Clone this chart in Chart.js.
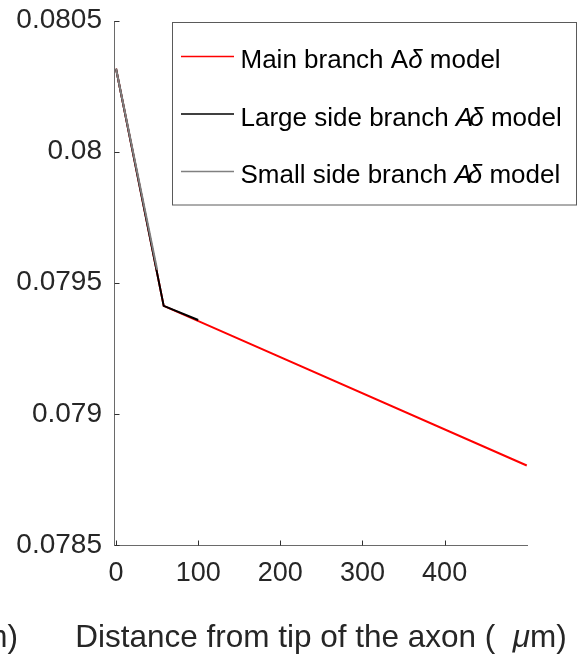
<!DOCTYPE html>
<html>
<head>
<meta charset="utf-8">
<script src="https://cdn.jsdelivr.net/npm/chart.js@4/dist/chart.umd.min.js"></script>
<style>
  html, body { margin: 0; padding: 0; background: #ffffff; }
  canvas { display: block; }
</style>
</head>
<body>
<canvas id="c" width="580" height="656"></canvas>
<script>
const FONT = '"Liberation Sans", Arial, Helvetica, sans-serif';

// Distance from the axon tip (µm) and value for each branch model
const mainX  = [0, 58, 500];
const mainY  = [0.080316, 0.079412, 0.078803];
const largeX = [0, 58, 100];
const largeY = [0.080316, 0.079412, 0.079358];
const smallX = [0, 50];
const smallY = [0.080316, 0.07955];

const xTicks = [0, 100, 200, 300, 400];
const yTicks = [0.0785, 0.079, 0.0795, 0.08, 0.0805];

const seriesNames  = ['Main branch', 'Large side branch', 'Small side branch'];
const seriesColors = ['#ff0000', '#000000', '#808080'];
const xLabelText   = 'Distance from tip of the axon (  ';
const xLabelUnit   = 'm)';

function toPoints(xs, ys) { return xs.map((x, i) => ({ x: x, y: ys[i] })); }

// Text runs with optional italic pieces
function runsWidth(ctx, runs, size) {
  let w = 0;
  runs.forEach(r => {
    ctx.font = (r.italic ? 'italic ' : '') + size + 'px ' + FONT;
    w += ctx.measureText(r.t).width + (r.kern || 0);
  });
  return w;
}
function drawRuns(ctx, x, y, runs, size, color) {
  ctx.fillStyle = color;
  ctx.textBaseline = 'alphabetic';
  ctx.textAlign = 'left';
  runs.forEach(r => {
    ctx.font = (r.italic ? 'italic ' : '') + size + 'px ' + FONT;
    ctx.fillText(r.t, x, y);
    x += ctx.measureText(r.t).width + (r.kern || 0);
  });
}

const titleRuns = [
  { t: xLabelText },
  { t: '\u03bc', italic: true },
  { t: xLabelUnit }
];

const legendRuns = [
  [{ t: seriesNames[0] + ' A' }, { t: '\u03b4', italic: true }, { t: ' model' }],
  [{ t: seriesNames[1] + ' ' }, { t: 'A', italic: true, kern: -4 }, { t: '\u03b4', italic: true }, { t: ' model' }],
  [{ t: seriesNames[2] + ' ' }, { t: 'A', italic: true, kern: -4 }, { t: '\u03b4', italic: true }, { t: ' model' }]
];

const decorations = {
  id: 'decorations',
  afterDraw(chart) {
    const ctx = chart.ctx;
    const a = chart.chartArea;
    const xs = chart.scales.x, ys = chart.scales.y;
    ctx.save();

    // axis lines (left and bottom only)
    ctx.strokeStyle = '#6a6a6a';
    ctx.lineWidth = 1;
    const lx = Math.round(a.left) + 0.5;
    const by = Math.round(a.bottom) + 0.5;
    ctx.beginPath();
    ctx.moveTo(lx, Math.round(a.top));
    ctx.lineTo(lx, by);
    ctx.lineTo(Math.round(a.right), by);
    ctx.stroke();

    // inward tick marks
    ctx.strokeStyle = '#303030';
    ctx.beginPath();
    yTicks.forEach(v => {
      const py = Math.round(ys.getPixelForValue(v)) + 0.5;
      ctx.moveTo(lx, py);
      ctx.lineTo(lx + 5, py);
    });
    xTicks.forEach(v => {
      const px = Math.round(xs.getPixelForValue(v)) + 0.5;
      ctx.moveTo(px, by);
      ctx.lineTo(px, by - 5);
    });
    ctx.stroke();

    // legend box
    const bx = 172.5, bt = 22.5, bw = 404, bh = 182.5;
    ctx.fillStyle = '#ffffff';
    ctx.fillRect(bx, bt, bw, bh);
    ctx.strokeStyle = '#5a5a5a';
    ctx.lineWidth = 1;
    ctx.strokeRect(bx, bt, bw, bh);
    for (let i = 0; i < 3; i++) {
      const rowY = 56.5 + i * 57.5;
      ctx.strokeStyle = seriesColors[i];
      ctx.lineWidth = 1.6;
      ctx.beginPath();
      ctx.moveTo(181, rowY);
      ctx.lineTo(234, rowY);
      ctx.stroke();
      drawRuns(ctx, 240.5, rowY + 11.5, legendRuns[i], 26, '#000000');
    }

    // x-axis title, centred under the plot area
    const tw = runsWidth(ctx, titleRuns, 31.5);
    const cx = (a.left + a.right) / 2;
    drawRuns(ctx, cx - tw / 2, a.bottom + 102, titleRuns, 31.5, '#262626');
    // neighbouring panel's title, running in from the left edge
    drawRuns(ctx, 18 - tw, a.bottom + 102, titleRuns, 31.5, '#262626');

    ctx.restore();
  }
};

function noOverhang(s) {
  s.paddingTop = 0; s.paddingBottom = 0; s.paddingLeft = 0; s.paddingRight = 0;
}

new Chart(document.getElementById('c'), {
  type: 'line',
  data: {
    datasets: [
      { label: seriesNames[0], data: toPoints(mainX, mainY),   borderColor: seriesColors[0], borderWidth: 2, pointRadius: 0, fill: false, tension: 0, order: 3 },
      { label: seriesNames[1], data: toPoints(largeX, largeY), borderColor: seriesColors[1], borderWidth: 2, pointRadius: 0, fill: false, tension: 0, order: 2 },
      { label: seriesNames[2], data: toPoints(smallX, smallY), borderColor: seriesColors[2], borderWidth: 2, pointRadius: 0, fill: false, tension: 0, order: 1 }
    ]
  },
  options: {
    responsive: false,
    animation: false,
    events: [],
    layout: { padding: { top: 20.5, right: 52, bottom: 0, left: 0 } },
    plugins: { legend: { display: false }, tooltip: { enabled: false }, title: { display: false } },
    scales: {
      x: {
        type: 'linear',
        min: -2.5,
        max: 501.5,
        grid: { display: false, drawTicks: false },
        border: { display: false },
        afterBuildTicks: s => { s.ticks = xTicks.map(v => ({ value: v })); },
        afterFit: s => { s.height = 111; noOverhang(s); },
        ticks: {
          padding: 12,
          maxRotation: 0,
          color: '#262626',
          font: { family: FONT, size: 27 },
          callback: v => String(v)
        }
      },
      y: {
        type: 'linear',
        min: 0.0785,
        max: 0.0805,
        grid: { display: false, drawTicks: false },
        border: { display: false },
        afterBuildTicks: s => { s.ticks = yTicks.map(v => ({ value: v })); },
        afterFit: s => { s.width = 114; noOverhang(s); },
        ticks: {
          padding: 12,
          color: '#262626',
          font: { family: FONT, size: 28 },
          callback: v => String(+Number(v).toFixed(4))
        }
      }
    }
  },
  plugins: [decorations]
});
</script>
</body>
</html>
